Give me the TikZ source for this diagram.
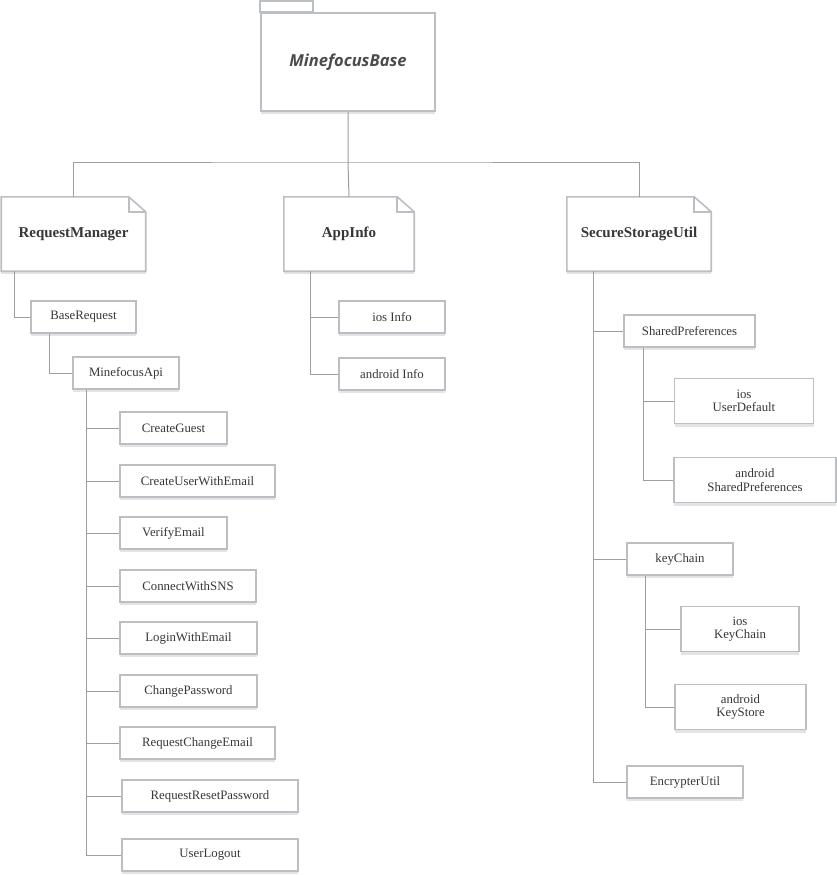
\documentclass[tikz,border=0pt]{standalone}
\usepackage{fontspec}
\setmainfont{Liberation Serif}
\newfontfamily\pkgfont{Open Sans}
\usetikzlibrary{positioning, shadows}
\definecolor{myframe}{RGB}{187,191,195}
\definecolor{myline}{RGB}{158,158,158}
\definecolor{mytext}{RGB}{55,55,55}
\definecolor{mypkgtext}{RGB}{75,75,75}
\definecolor{myshadow}{RGB}{226,228,230}
\tikzset{
  box/.style={rectangle, draw=myframe, fill=white, line width=1.6pt,
    text=mytext, align=center, inner sep=0pt, minimum height=32,
    font=\fontsize{12.8}{13.5}\selectfont,
    drop shadow={shadow xshift=0pt, shadow yshift=-3pt, fill=myshadow, opacity=1}},
  tallbox/.style={box, minimum height=45},
  notebox/.style={rectangle, inner sep=0pt, minimum width=144, minimum height=74,
    text=mytext, font=\fontsize{15}{17}\selectfont\bfseries},
  frame/.style={draw=myframe, line width=1.6pt, line join=miter},
  line/.style={myline, line width=1pt}
}

\begin{document}
\begin{tikzpicture}[x=1pt, y=-1pt,
  pkgbox/.style={box, minimum width=174, minimum height=98, text=mypkgtext,
    font=\pkgfont\fontsize{16.5}{18}\selectfont\bfseries\itshape}]

  \useasboundingbox[fill=white] (0,0) rectangle (837,875);

  % Package
  \node[pkgbox] (base) at (348,62) {MinefocusBase};
  \draw[frame, fill=white] ([yshift=11]base.north west) rectangle ([xshift=53]base.north west);

  % Notes
  \node[notebox] (rm) at (73.5,234) {RequestManager};
  \node[notebox, minimum width=130] (appinfo) at (349,234) {AppInfo};
  \node[notebox] (ssu) at (639,234) {SecureStorageUtil};
  \foreach \n in {rm, appinfo, ssu} {
    \fill[myshadow] (\n.south west) rectangle ([yshift=-3]\n.south east);
    \draw[frame] (\n.south west) -- (\n.north west) -- ([xshift=-17]\n.north east)
      -- ([yshift=-15]\n.north east) -- (\n.south east) -- cycle;
    \draw[frame] ([xshift=-17]\n.north east) |- ([yshift=-15]\n.north east);
  }

  % RequestManager branch
  \node[box, minimum width=105] (basereq) at (83.5,317) {BaseRequest};
  \node[box, minimum width=106] (api) at (126,373) {MinefocusApi};
  \node[box, minimum width=107] (cg) at (173.5,428) {CreateGuest};
  \node[box, minimum width=155] (cuwe) at (197.5,481) {CreateUserWithEmail};
  \node[box, minimum width=107] (ve) at (173.5,533) {VerifyEmail};
  \node[box, minimum width=136] (cws) at (188,586) {ConnectWithSNS};
  \node[box, minimum width=137] (lwe) at (188.5,638) {LoginWithEmail};
  \node[box, minimum width=137] (cp) at (188.5,691) {ChangePassword};
  \node[box, minimum width=155] (rce) at (197.5,743) {RequestChangeEmail};
  \node[box, minimum width=176] (rrp) at (210,796) {RequestResetPassword};
  \node[box, minimum width=176] (ul) at (210,855) {UserLogout};

  % AppInfo branch
  \node[box, minimum width=106] (iosinfo) at (392,317) {ios Info};
  \node[box, minimum width=106] (andinfo) at (392,374) {android Info};

  % SecureStorageUtil branch
  \node[box, minimum width=131] (sp) at (689.5,331) {SharedPreferences};
  \node[tallbox, minimum width=139] (iosud) at (744,401) {ios\\UserDefault};
  \node[tallbox, minimum width=162] (andsp) at (755,480) {android\\SharedPreferences};
  \node[box, minimum width=106] (kc) at (680,559) {keyChain};
  \node[tallbox, minimum width=118] (ioskc) at (740,629) {ios\\KeyChain};
  \node[tallbox, minimum width=131] (andks) at (740.5,707) {android\\KeyStore};
  \node[box, minimum width=116] (enc) at (685,782) {EncrypterUtil};

  % Connectors
  \coordinate (bus) at (348,162);
  \draw[line] (base.south) -- (bus) -- (appinfo.north);
  \draw[line] (rm.north) |- (bus) -| (ssu.north);
  \draw[line] ([xshift=13]rm.south west) |- (basereq.west);
  \draw[line] ([xshift=19]basereq.south west) |- (api.west);
  \foreach \n in {cg, cuwe, ve, cws, lwe, cp, rce, rrp, ul}
    \draw[line] ([xshift=14]api.south west) |- (\n.west);
  \foreach \n in {iosinfo, andinfo}
    \draw[line] ([xshift=27]appinfo.south west) |- (\n.west);
  \foreach \n in {sp, kc, enc}
    \draw[line] ([xshift=27]ssu.south west) |- (\n.west);
  \foreach \n in {iosud, andsp}
    \draw[line] ([xshift=20]sp.south west) |- (\n.west);
  \foreach \n in {ioskc, andks}
    \draw[line] ([xshift=19]kc.south west) |- (\n.west);

\end{tikzpicture}
\end{document}
